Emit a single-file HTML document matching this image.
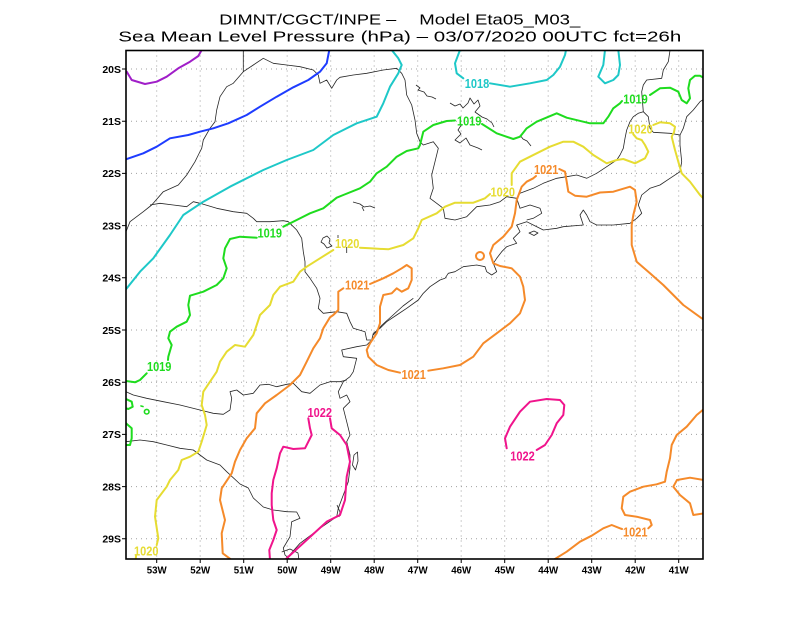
<!DOCTYPE html>
<html><head><meta charset="utf-8"><style>
html,body{margin:0;padding:0;background:#fff;}
svg{display:block;}
.t{font-family:"Liberation Sans",sans-serif;font-size:15px;fill:#000;}
.ax{font-family:"Liberation Sans",sans-serif;font-size:10.5px;font-weight:bold;fill:#000;}
.cl{font-family:"Liberation Sans",sans-serif;font-size:12.5px;font-weight:bold;}
.g{stroke:#a0a0a0;stroke-width:1;stroke-dasharray:1 4;fill:none;}
.m{stroke:#262626;stroke-width:0.8;fill:none;stroke-linejoin:round;}
.c{stroke-width:2;fill:none;stroke-linejoin:round;stroke-linecap:round;}
</style></head><body>
<svg width="800" height="618" viewBox="0 0 800 618" xmlns="http://www.w3.org/2000/svg">
<rect width="800" height="618" fill="#fff"/>
<text class="t" x="219.3" y="24.3" textLength="177" lengthAdjust="spacingAndGlyphs">DIMNT/CGCT/INPE –</text>
<text class="t" x="419.3" y="24.3" textLength="161" lengthAdjust="spacingAndGlyphs">Model Eta05_M03_</text>
<text class="t" x="118.3" y="41.7" textLength="563" lengthAdjust="spacingAndGlyphs">Sea Mean Level Pressure (hPa) – 03/07/2020 00UTC fct=26h</text>

<defs><clipPath id="cp"><rect x="126" y="50.5" width="577" height="508.5"/></clipPath></defs>

<g class="g">
<path d="M156.7,50.5V559M200.2,50.5V559M243.7,50.5V559M287.2,50.5V559M330.7,50.5V559M374.2,50.5V559M417.7,50.5V559M461.2,50.5V559M504.7,50.5V559M548.2,50.5V559M591.7,50.5V559M635.2,50.5V559M678.7,50.5V559"/>
<path d="M126,69H703M126,121.2H703M126,173.4H703M126,225.6H703M126,277.8H703M126,330H703M126,382.2H703M126,434.4H703M126,486.6H703M126,538.8H703"/>
</g>

<g clip-path="url(#cp)">
<!-- map lines -->
<g class="m">
<path d="M243.3,50.5 L243.3,71.7 L233.3,83.3 L226.7,86.7 L220,96.7 L216.7,110 L215,121.7 L210,128.3 L203.3,140 L201.7,148.3 L198.3,155 L195,161.7 L186.7,175 L178.3,185 L163.3,191.7 L151.7,205 L143.3,211.7 L130,221.7 L126,231.7"/>
<path d="M243.3,71.7 L253.3,65 L263.3,58.3 L273.3,63.3 L286.7,65 L300,66.7 L313.3,70 L318.3,75 L320,83.3 L326.7,80 L331.7,88.3 L336.7,80 L340,77.3 L353.3,75 L366.7,73.3 L383.3,70 L396.7,68.3 L401.7,73.3 L405,80 L406.7,95 L411.7,105 L415,120 L416.7,133.3 L420,141.7 L423.3,145 L433.3,141.7 L438.3,148.3 L435,161.7 L431.7,175 L433.3,188.3 L430,198.3 L436.7,203.3 L443.3,208.3 L445,218.3 L455,220 L466.7,216.7 L471.7,211.7 L476.7,206.7 L490,205 L500,201.7 L506.7,196.7 L516.7,198.3 L520,193.3 L533.3,188.3 L543.3,183.3 L556.7,178.3 L566.7,176.7 L576.7,175 L586.7,178.3 L596.7,173.3 L606.7,166.7 L616.7,160 L620,155 L623.3,148.3 L625,138.3 L626.7,130 L630,121.7 L633.3,116.7 L638.3,113.3 L643.3,111.7 L641.7,91.7 L643.3,85 L646.7,80 L661.7,78.3 L663.3,70 L668.3,61.7 L670,50.5"/>
<path d="M643.3,111.7 L648.3,116.7 L650,128.3 L653.3,132.3 L670,133.3 L680,135"/>
<path d="M704,99 L700,101.7 L693.3,110 L686.7,116.7 L683.3,128.3 L680,135 L680,145 L681.7,161.7 L680,171.7 L670,178.3 L660,185 L650,188.3 L641.7,195 L638.3,205 L641.7,213.3 L636.7,218.3 L630,223.3 L613.3,225 L596.7,225 L590,221.7 L586.7,215 L583.3,210 L580,215 L583.3,225 L563.3,226.7 L556.7,228.3 L543.3,230 L533.3,225 L526.7,221.7 L516.7,225 L520,231.7 L513.3,238.3 L516.7,243.3 L506.7,246.7 L501.7,251.7 L496.7,258.3 L493.3,263.3 L496.7,271.7 L491.7,275 L486.7,271.7 L485,266.7 L476.7,265 L463.3,266.7 L455,271.7 L448.3,273.3 L445,278.3 L440,280 L430,286.7 L423.3,293.3 L418.3,300 L406.7,308.3 L396.7,315 L386.7,321.7 L380,328.3 L373.3,333.3 L371.7,340 L366.7,345 L356.7,346.7 L341.7,350 L343.3,356.7 L356.7,358.3 L353.3,371.7 L350,376.7 L343.3,381.7 L338.3,391.7 L340,398.3 L346.7,395 L350,401.7 L343.3,408.3 L346.7,421.7 L350,435 L346.7,441.7 L350,455 L350,468.3 L348.3,481.7 L343.3,495 L338.3,508.3 L336.7,516.7 L320,528.3 L300,543.3 L286.7,558.3 L285,560"/>
<path d="M516.7,198.3 L520,208.3 L530,205 L540,208.3 L541.7,213.3 L533.3,218.3 L526.7,220"/>
<path d="M529,233 L534,231 L538,233 L534,235.5 Z"/>
<path d="M413.3,298.3 L403,306 L392,316 L382,325 L373.3,335"/>
<path d="M354,455 L357.5,452 L358,461 L355.5,470 L352.5,465 Z"/>
<path d="M337,505 L340,512 L339,517"/>
<path d="M150,205 L160,203.3 L173.3,205 L186.7,206.7 L193.3,201.7 L200,203.3 L216.7,208.3 L233.3,211.7 L246.7,213.3 L253.3,218.3 L256.7,221.7 L270,221.7 L283.3,220.7 L288.3,221.7 L296.7,230 L301.7,238.3 L303.3,251.7 L305,261.7 L305,271.7 L310,278.3 L316.7,288.3 L320,298.3 L318.3,308.3 L323.3,313.3 L336.7,311.7 L346.7,313.3 L350,321.7 L353.3,328.3 L365,331.7 L366.7,340 L371.7,340"/>
<path d="M126,391.7 L133.3,395 L146.7,398.3 L163.3,401.7 L180,405 L200,410 L213.3,413.3 L223.3,414.3 L230,410 L231.7,398.3 L230,391.7 L236.7,390 L243.3,395 L253.3,393.3 L260,385 L268.3,384.3 L276.7,386.7 L286.7,384.3 L293.3,383.3 L301.7,391.7 L310,393.3 L320,385 L330,381.7 L340,381.7 L346.7,380"/>
<path d="M126,441.7 L140,440 L153.3,441.7 L166.7,445 L180,448.3 L193.3,450 L200,455 L206.7,460 L220,465 L226.7,471.7 L240,484 L248.3,488 L253.3,498 L263.3,507 L273.3,510 L286.7,511.7 L296.7,512 L300,518.3 L291.7,521.7 L290,536.7 L283.3,548 L285,555 L290,559.5"/>
<path d="M281.7,552 L290,549 L298,553 L299,560"/>
<path d="M416,85 L420,88 L418,90 L424,92 L427,96 L432,97 L436,99"/>
<path d="M450,103 L455,106 L460,104 L463,108 L468,103 L470,98 L474,104 L478,100 L480,106 L475,112 L482,117 L487,119 L492,123 L494,127"/>
<path d="M462,124 L458,130 L461,134 L455,140 L460,143 L466,138 L470,145 L478,148 L482,150"/>
<path d="M520,135 L523,139 L527,141 L531,146"/>
<path d="M353,202 L360,204 L364,207 L370,206 L375,208 M362,207 L364,211"/>
<path d="M323,238 L327,236 L330,239 L329,243 L332,246 L327,248 L324,244 L321,242 Z"/>
<path d="M346.7,247 L346.7,253 M338,235 L338,238"/>
</g>

<!-- purple -->
<path class="c" stroke="#a01ec8" d="M126.7,71.7 L131.7,80 L145,84 L156.7,81.7 L166.7,76.7 L178.3,68.3 L190,61.7 L198.3,56 L201.7,50"/>
<!-- blue -->
<path class="c" stroke="#1e3cff" d="M126,159.3 L143.3,153.3 L156.7,146.7 L170,138.3 L188.3,135 L200,131.7 L213.3,128.3 L228.3,123.3 L246.7,115 L260,106.7 L276.7,96.7 L293.3,87.3 L308.3,80 L320,71.7 L326.7,63.3 L329.3,50"/>
<!-- cyan -->
<g class="c" stroke="#1ec8c8">
<path d="M126,289.3 L140,271.7 L153.3,258.3 L170,235 L183.3,215 L203.3,201.7 L230,186.7 L263.3,170 L286.7,160 L313.3,150 L333.3,135 L356.7,123.3 L376.7,116.7 L383.3,103.3 L390,86.7 L398.3,73.3 L401.7,65 L398.3,58.3 L391.7,50"/>
<path d="M460,50 L455,63.3 L456.7,73.3 L463.3,78.3"/>
<path d="M490,83.3 L510,86.7 L530,83.3 L546.7,80 L553.3,75 L560,66.7 L565,55 L566,50"/>
<path d="M605,50 L603.3,65 L598.3,76.7 L605,83.3 L613.3,80 L618.3,75 L620,65 L618.3,50"/>
</g>
<!-- green -->
<g class="c" stroke="#1edc1e">
<path d="M126,381 L135,382.3 L140,380 L146.7,373.3"/>
<path d="M168,360 L168.3,356.7 L171.7,345 L168.3,338.3 L170,331.7 L176.7,326.7 L186.7,321.7 L190,315 L188.3,305 L190,295.7 L203.3,291.7 L216.7,285 L223.3,278.3 L226.7,268.3 L223.3,258.3 L225,248.3 L230,239 L240,236.7 L256.7,237.7"/>
<path d="M283.3,226.7 L296.7,220 L310,213.3 L323.3,208.3 L336.7,197.7 L343.3,195 L360,188.3 L370,181.7 L376.7,173.3 L386.7,166.7 L396.7,156.7 L406.7,151 L418.3,148.3 L420,145 L423.3,131.7 L433.3,125 L446.7,121 L455,120.5"/>
<path d="M482,124 L496.7,133.3 L513.3,139 L520,136.7 L526.7,128.3 L536.7,121.7 L556.7,113.3 L566.7,117.7 L590,123.3 L603.3,123.3 L608.3,116.7 L613.3,108.3 L620,103.3 L622,101"/>
<path d="M650,95 L660,88.3 L670,87.7 L678.3,91.7 L681.7,100 L686.7,103.3 L690,98.3 L688.3,88.3 L690,80 L695,75.7 L700,75.7 L704,78"/>
<path d="M126,399 L131.7,401.7 L132.7,406.7 L128.3,409 L126,408.3"/>
<path d="M126,423.3 L131.7,428.3 L131.7,438.3 L130,445 L126,445"/>
<circle cx="146.7" cy="411.7" r="2.3" stroke-width="1.6"/>
<path d="M141,406 L143,406.5" stroke-width="1.6"/>
</g>
<!-- yellow -->
<g class="c" stroke="#e6dc32">
<path d="M135.7,560 L136,556"/>
<path d="M156.7,545 L158.3,538.3 L155,516.7 L156.7,500 L166.7,486.7 L170,480 L178.3,470 L181.7,460 L190,456.7 L198.3,451.7 L201.7,441.7 L206.7,425 L205,415 L201.7,405 L203.3,391.7 L210,381.7 L216.7,371.7 L220,361.7 L226.7,351.7 L235,345 L245,346.7 L253.3,335 L256.7,325 L260,315 L270,305 L273.3,295 L280,286.7 L293.3,281.7 L300,271.7 L306.7,266.7 L320,258.3 L333.3,250"/>
<path d="M360,247.7 L370,248.3 L388.3,249.3 L403.3,245 L413.3,238.3 L418.3,228.3 L421.7,220 L436.7,213.3 L445,206.7 L455,202.7 L473.3,202.7 L485,198.3 L490,194"/>
<path d="M511.7,185 L511.7,173.3 L520,161.7 L536.7,153.3 L550,146.7 L563.3,141.7 L573.3,141.7 L583.3,146.7 L593.3,155 L606.7,163.3 L616.7,160 L623.3,159 L635,163.3 L645,158.3 L648.3,151.7 L645,145 L641.7,140 L636.7,138.3 L633.3,134.3"/>
<path d="M653.3,125 L660,122.3 L670,123.3 L675,126.7 L674,132.3 L671.7,136.7 L675,150 L678.3,161.7 L681.7,173.3 L690,181.7 L700,195 L704,199"/>
</g>
<!-- orange -->
<g class="c" stroke="#f58a2a">
<path d="M231.7,560 L222.7,553.3 L221.7,533.3 L225,520 L220,500 L221.7,488.3 L231.7,473.3 L235,461.7 L240,450 L246.7,438.3 L255,428.3 L256.7,413.3 L265,403.3 L276.7,395 L290,385 L300,375 L306.7,361.7 L313.3,348.3 L320,338.3 L323.3,328.3 L330,317.3 L333.3,315 L338.3,310 L338.3,291.7 L343.3,288.3"/>
<path d="M370,284 L383.3,278.3 L393.3,273.3 L401.7,268.3 L406.7,265 L411.7,268.3 L411.7,280 L408.3,288.3 L401.7,291.7 L396.7,288.3 L391.7,293.3 L383.3,295 L380,306.7 L380,323.3 L376.7,333.3 L370,343.3 L366.7,350 L368.3,356.7 L376.7,365 L388.3,370 L400,372.7"/>
<path d="M428.3,370.7 L443.3,368.3 L460,365 L473.3,356.7 L483.3,343.3 L496.7,333.3 L510,323.3 L520,313.3 L525,300 L523.3,286.7 L520,276.7 L511.7,268.3 L500,266 L493.3,263.3 L490,253.3 L493.3,245 L503.3,236.7 L511.7,226.7 L515,213.3 L516.7,200 L521.7,186.7 L526.7,181.7 L533.3,178.3 L536,176"/>
<path d="M559.3,169 L565,171.7 L566.7,181.7 L568.3,191.7 L575,195.7 L586.7,196.7 L600,192.5 L613.3,191.7 L626.7,187.7 L630,186.7 L635,190 L636.7,201.7 L633.3,215 L631.7,225 L631.7,245 L636.7,261.7 L650,273.3 L663.3,285 L673.3,295 L683.3,305 L701.7,318.3 L704,319.5"/>
<path d="M553.3,560 L566.7,551.7 L580,541.7 L591.7,535.7 L603.3,528.3 L611.7,525 L620,528.3 L622,529"/>
<path d="M648.3,528.3 L651.7,525 L650,520 L636.7,516.7 L625,515 L621.7,508.3 L623.3,496.7 L630,491.7 L643.3,486.7 L656.7,484.3 L665,481.7 L666.7,471.7 L670,458.3 L671.7,445 L676.7,435 L686.7,426.7 L696.7,415 L704,409"/>
<path d="M704,480 L690,477.7 L677,480 L673.3,486.7 L680,495 L690,503.3 L693.3,515 L704,513.3"/>
<circle cx="480" cy="256" r="4"/>
</g>
<!-- pink -->
<g class="c" stroke="#f0148c">
<path d="M270,560 L269.3,550 L273.3,540 L276.7,530 L273.3,520 L271.7,505 L271.7,493.3 L273.3,480 L276.7,468.3 L280,453.3 L283.3,446.7 L293.3,449 L305,448.3 L311.7,435 L310,428.3 L308.3,418.3"/>
<path d="M330,418.3 L331.7,428.3 L340,435 L346.7,445 L350,461.7 L346.7,476.7 L345,500 L340,515 L326.7,521.7 L306.7,540 L286.7,558.3 L285,560"/>
<path d="M506.7,448.3 L505,438.3 L510,426.7 L520,411.7 L530,401.7 L546.7,399 L560,400 L564.3,405 L563.3,415 L556.7,423.3 L551.7,435 L545,445 L536.7,450"/>
</g>
</g>

<!-- contour labels -->
<g class="cl" text-anchor="middle">
<text x="477" y="87.8" fill="#1ec8c8" textLength="24.5" lengthAdjust="spacingAndGlyphs">1018</text>
<text x="635.5" y="103.3" fill="#1edc1e" textLength="24.5" lengthAdjust="spacingAndGlyphs">1019</text>
<text x="469.2" y="125.5" fill="#1edc1e" textLength="24.5" lengthAdjust="spacingAndGlyphs">1019</text>
<text x="269.8" y="237.3" fill="#1edc1e" textLength="24.5" lengthAdjust="spacingAndGlyphs">1019</text>
<text x="159.2" y="370.8" fill="#1edc1e" textLength="24.5" lengthAdjust="spacingAndGlyphs">1019</text>
<text x="640.5" y="133.5" fill="#e6dc32" textLength="24.5" lengthAdjust="spacingAndGlyphs">1020</text>
<text x="502.8" y="196.5" fill="#e6dc32" textLength="24.5" lengthAdjust="spacingAndGlyphs">1020</text>
<text x="347.2" y="247.8" fill="#e6dc32" textLength="24.5" lengthAdjust="spacingAndGlyphs">1020</text>
<text x="146.3" y="555.5" fill="#e6dc32" textLength="24.5" lengthAdjust="spacingAndGlyphs">1020</text>
<text x="546.2" y="173.8" fill="#f58a2a" textLength="24.5" lengthAdjust="spacingAndGlyphs">1021</text>
<text x="357.2" y="289.5" fill="#f58a2a" textLength="24.5" lengthAdjust="spacingAndGlyphs">1021</text>
<text x="413.7" y="379.2" fill="#f58a2a" textLength="24.5" lengthAdjust="spacingAndGlyphs">1021</text>
<text x="635.3" y="536.5" fill="#f58a2a" textLength="24.5" lengthAdjust="spacingAndGlyphs">1021</text>
<text x="319.8" y="416.8" fill="#f0148c" textLength="24.5" lengthAdjust="spacingAndGlyphs">1022</text>
<text x="522.5" y="460.5" fill="#f0148c" textLength="24.5" lengthAdjust="spacingAndGlyphs">1022</text>
</g>

<!-- frame & ticks -->
<rect x="126" y="50.5" width="577" height="508.5" fill="none" stroke="#000" stroke-width="1.6"/>
<path stroke="#000" stroke-width="1" d="M122,69H126M122,121.2H126M122,173.4H126M122,225.6H126M122,277.8H126M122,330H126M122,382.2H126M122,434.4H126M122,486.6H126M122,538.8H126
M156.7,559V563M200.2,559V563M243.7,559V563M287.2,559V563M330.7,559V563M374.2,559V563M417.7,559V563M461.2,559V563M504.7,559V563M548.2,559V563M591.7,559V563M635.2,559V563M678.7,559V563"/>

<g class="ax" text-anchor="end">
<text x="121" y="72.8">20S</text>
<text x="121" y="125">21S</text>
<text x="121" y="177.2">22S</text>
<text x="121" y="229.4">23S</text>
<text x="121" y="281.6">24S</text>
<text x="121" y="333.8">25S</text>
<text x="121" y="386">26S</text>
<text x="121" y="438.2">27S</text>
<text x="121" y="490.4">28S</text>
<text x="121" y="542.6">29S</text>
</g>
<g class="ax" text-anchor="middle">
<text x="156.7" y="573.5" textLength="20" lengthAdjust="spacingAndGlyphs">53W</text>
<text x="200.2" y="573.5" textLength="20" lengthAdjust="spacingAndGlyphs">52W</text>
<text x="243.7" y="573.5" textLength="20" lengthAdjust="spacingAndGlyphs">51W</text>
<text x="287.2" y="573.5" textLength="20" lengthAdjust="spacingAndGlyphs">50W</text>
<text x="330.7" y="573.5" textLength="20" lengthAdjust="spacingAndGlyphs">49W</text>
<text x="374.2" y="573.5" textLength="20" lengthAdjust="spacingAndGlyphs">48W</text>
<text x="417.7" y="573.5" textLength="20" lengthAdjust="spacingAndGlyphs">47W</text>
<text x="461.2" y="573.5" textLength="20" lengthAdjust="spacingAndGlyphs">46W</text>
<text x="504.7" y="573.5" textLength="20" lengthAdjust="spacingAndGlyphs">45W</text>
<text x="548.2" y="573.5" textLength="20" lengthAdjust="spacingAndGlyphs">44W</text>
<text x="591.7" y="573.5" textLength="20" lengthAdjust="spacingAndGlyphs">43W</text>
<text x="635.2" y="573.5" textLength="20" lengthAdjust="spacingAndGlyphs">42W</text>
<text x="678.7" y="573.5" textLength="20" lengthAdjust="spacingAndGlyphs">41W</text>
</g>
</svg>
</body></html>
